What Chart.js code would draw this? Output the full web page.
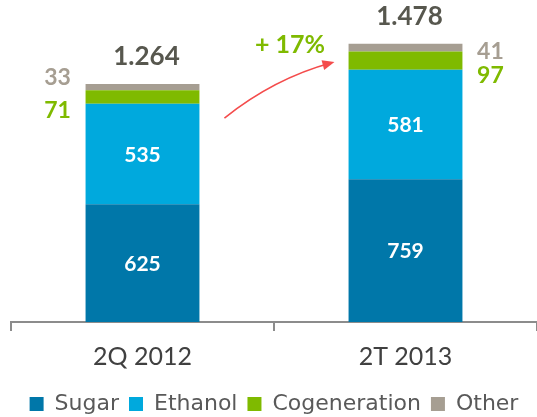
<!DOCTYPE html>
<html><head><meta charset="utf-8">
<script src="https://cdn.jsdelivr.net/npm/chart.js@4"></script>
<style>html,body{margin:0;padding:0;background:#fff}#wrap{width:537px;height:417px}</style>
</head><body><div id="wrap"><canvas id="c" width="537" height="417"></canvas></div>
<script>
const categories = ["2Q 2012", "2T 2013"];
const sugar = [625, 759];
const ethanol = [535, 581];
const cogeneration = [71, 97];
const other = [33, 41];
const totalLabels = ["1.264", "1.478"];
const growthLabel = "+ 17%";

const C_SUGAR = "#0077A9", C_ETH = "#00A9DD", C_COG = "#7FBA00", C_OTH = "#A69E92";

const labelPlugin = {
  id: "labels",
  afterDatasetsDraw(chart) {
    const ctx = chart.ctx;
    const y = chart.scales.y;
    ctx.save();
    ctx.textAlign = "center";
    ctx.textBaseline = "middle";
    [0, 1].forEach(di => {
      const meta = chart.getDatasetMeta(di);
      meta.data.forEach((bar, i) => {
        const v = chart.data.datasets[di].data[i];
        ctx.fillStyle = "#fff";
        ctx.font = "bold 21px Lato";
        ctx.fillText(String(v), bar.x, (bar.y + bar.base) / 2 + 1);
      });
    });
    const n = categories.length;
    for (let i = 0; i < n; i++) {
      const cog = chart.getDatasetMeta(2).data[i];
      const total = sugar[i] + ethanol[i] + cogeneration[i] + other[i];
      const top = y.getPixelForValue(total);
      const half = cog.width / 2;
      const lx = i === 0 ? cog.x - half - 28 : cog.x + half + 28;
      ctx.font = "bold 23px Lato";
      if (i === 0) {
        ctx.fillStyle = C_OTH; ctx.fillText(String(other[i]), lx, top - 6);
        ctx.fillStyle = C_COG; ctx.fillText(String(cogeneration[i]), lx, top + 27);
      } else {
        ctx.fillStyle = C_OTH; ctx.fillText(String(other[i]), lx, top + 8);
        ctx.fillStyle = C_COG; ctx.fillText(String(cogeneration[i]), lx, top + 32);
      }
      ctx.font = "bold 26px Lato";
      ctx.fillStyle = "#57574E";
      ctx.fillText(totalLabels[i], cog.x + 4, top - 27);
    }
    const b0 = chart.getDatasetMeta(3).data[0];
    const b1 = chart.getDatasetMeta(3).data[1];
    const t0 = y.getPixelForValue(sugar[0] + ethanol[0] + cogeneration[0] + other[0]);
    const t1 = y.getPixelForValue(sugar[1] + ethanol[1] + cogeneration[1] + other[1]);
    const sx = b0.x + b0.width / 2 + 25, sy = t0 + 34;
    const ex = b1.x - b1.width / 2 - 17, ey = t1 + 19;
    const cx = (sx + ex) / 2 - 4, cy = (sy + ey) / 2 - 12;
    ctx.strokeStyle = "#F44C4C";
    ctx.lineWidth = 1.6;
    ctx.beginPath();
    ctx.moveTo(sx, sy);
    ctx.quadraticCurveTo(cx, cy, ex, ey);
    ctx.stroke();
    const ang = Math.atan2(ey - cy, ex - cx);
    ctx.fillStyle = "#F44C4C";
    ctx.beginPath();
    ctx.moveTo(ex + 3 * Math.cos(ang), ey + 3 * Math.sin(ang));
    ctx.lineTo(ex - 9 * Math.cos(ang) - 5 * Math.sin(ang), ey - 9 * Math.sin(ang) + 5 * Math.cos(ang));
    ctx.lineTo(ex - 9 * Math.cos(ang) + 5 * Math.sin(ang), ey - 9 * Math.sin(ang) - 5 * Math.cos(ang));
    ctx.closePath();
    ctx.fill();
    ctx.font = "bold 25px Lato";
    ctx.fillStyle = C_COG;
    ctx.fillText(growthLabel, (sx + ex) / 2 + 12, t1 + 1);
    ctx.restore();
  }
};

new Chart(document.getElementById("c"), {
  type: "bar",
  data: {
    labels: categories,
    datasets: [
      { label: "Sugar", data: sugar, backgroundColor: C_SUGAR },
      { label: "Ethanol", data: ethanol, backgroundColor: C_ETH },
      { label: "Cogeneration", data: cogeneration, backgroundColor: C_COG },
      { label: "Other", data: other, backgroundColor: C_OTH }
    ]
  },
  options: {
    responsive: false,
    animation: false,
    devicePixelRatio: 1,
    layout: { padding: { left: 11, right: 0, top: 2, bottom: -8 } },
    datasets: { bar: { categoryPercentage: 1, barPercentage: 0.433, borderWidth: 0 } },
    scales: {
      x: {
        stacked: true,
        grid: { offset: true, drawOnChartArea: false, tickLength: 9, color: "#8C8C8C", lineWidth: 2 },
        border: { color: "#8C8C8C", width: 2 },
        ticks: { color: "#404040", font: { family: "Lato", size: 25, lineHeight: 1.44 }, padding: 8 }
      },
      y: { stacked: true, display: false, min: 0, max: 1700 }
    },
    plugins: {
      legend: {
        position: "bottom",
        labels: { boxWidth: 14, boxHeight: 14, color: "#595959", font: { family: "DejaVu Sans", size: 22 }, padding: 10 }
      },
      tooltip: { enabled: false }
    }
  },
  plugins: [labelPlugin]
});
</script></body></html>
